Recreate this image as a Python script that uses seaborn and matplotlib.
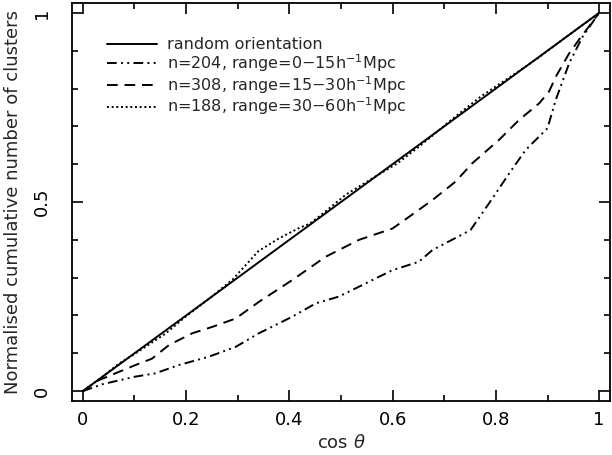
import numpy as np
import matplotlib
matplotlib.use('Agg')
import matplotlib.pyplot as plt
from matplotlib.ticker import MultipleLocator, FuncFormatter
import seaborn as sns

# Valores
random_x = [0.0, 1.0]
random_y = [0.0, 1.0]

n204_x = [0.0, 0.037, 0.10, 0.14, 0.186, 0.244, 0.296, 0.341, 0.406, 0.451, 0.496, 0.548,
          0.60, 0.651, 0.677, 0.729, 0.751, 0.787, 0.826, 0.858, 0.90, 0.916, 0.942, 0.968, 1.0]
n204_y = [0.0, 0.018, 0.038, 0.047, 0.069, 0.091, 0.117, 0.153, 0.197, 0.232, 0.25, 0.285,
          0.32, 0.342, 0.373, 0.41, 0.426, 0.497, 0.576, 0.638, 0.695, 0.77, 0.867, 0.937, 1.0]

n308_x = [0.0, 0.031, 0.07, 0.102, 0.134, 0.167, 0.212, 0.251, 0.296, 0.341, 0.406, 0.47,
          0.535, 0.60, 0.632, 0.677, 0.722, 0.754, 0.806, 0.845, 0.884, 0.903, 0.916, 0.942,
          0.961, 1.0]
n308_y = [0.0, 0.029, 0.051, 0.069, 0.086, 0.122, 0.153, 0.17, 0.192, 0.236, 0.294, 0.355,
          0.40, 0.43, 0.461, 0.505, 0.554, 0.602, 0.664, 0.717, 0.761, 0.792, 0.831, 0.893,
          0.929, 1.0]

n188_x = [0.0, 0.02, 0.04, 0.07, 0.10, 0.13, 0.16, 0.20, 0.25, 0.29, 0.34, 0.38, 0.42, 0.44,
          0.47, 0.51, 0.57, 0.61, 0.65, 0.69, 0.71, 0.77, 0.85, 0.88, 0.93, 0.97, 1.0]
n188_y = [0.0, 0.02, 0.04, 0.073, 0.098, 0.125, 0.152, 0.198, 0.25, 0.295, 0.37, 0.404, 0.432,
          0.443, 0.475, 0.52, 0.57, 0.603, 0.645, 0.69, 0.713, 0.778, 0.851, 0.879, 0.93, 0.97,
          1.0]

sns.set_style('ticks')
plt.rcParams['font.family'] = ['DejaVu Sans']
plt.rcParams['mathtext.fontset'] = 'dejavusans'

fig = plt.figure(figsize=(6.12, 4.55), dpi=100)
ax = fig.add_axes([0.1176, 0.1187, 0.8791, 0.8747])

lw = 1.4
sns.lineplot(x=random_x, y=random_y, ax=ax, color='black', lw=lw,
             label='random orientation')
sns.lineplot(x=n204_x, y=n204_y, ax=ax, color='black', lw=lw,
             linestyle=(0, (5, 2.2, 1, 2.2, 1, 2.2)),
             label=r'n=204, range=0$-$15h$^{-1}$Mpc')
sns.lineplot(x=n308_x, y=n308_y, ax=ax, color='black', lw=lw,
             linestyle=(0, (5.5, 3.5)),
             label=r'n=308, range=15$-$30h$^{-1}$Mpc')
sns.lineplot(x=n188_x, y=n188_y, ax=ax, color='black', lw=lw,
             linestyle=(0, (1, 1.4)),
             label=r'n=188, range=30$-$60h$^{-1}$Mpc')

ax.set_xlim(-0.021, 1.021)
ax.set_ylim(-0.026, 1.026)

ax.xaxis.set_major_locator(MultipleLocator(0.2))
ax.xaxis.set_minor_locator(MultipleLocator(0.1))
ax.yaxis.set_major_locator(MultipleLocator(0.5))
ax.yaxis.set_minor_locator(MultipleLocator(0.1))

fmt = FuncFormatter(lambda v, p: '%g' % round(v, 2))
ax.xaxis.set_major_formatter(fmt)
ax.yaxis.set_major_formatter(fmt)

ax.tick_params(which='both', direction='in', top=True, right=True, width=1.2,
               labelsize=13, colors='black')
ax.tick_params(which='major', length=8)
ax.tick_params(which='minor', length=4.5)
ax.tick_params(axis='x', which='major', pad=7)
ax.tick_params(axis='y', which='major', pad=15)
for lab in ax.get_yticklabels():
    lab.set_rotation(90)
    lab.set_va('center')

for s in ax.spines.values():
    s.set_linewidth(1.3)
    s.set_color('black')

ax.set_xlabel(r'cos $\theta$', fontsize=13, labelpad=4)
ax.set_ylabel('Normalised cumulative number of clusters', fontsize=13, labelpad=8)

ax.legend(loc='upper left', bbox_to_anchor=(0.054, 0.93), frameon=False,
          fontsize=11.5, handlelength=3.1, handletextpad=0.6, labelspacing=0.0,
          borderaxespad=0)

plt.savefig('out.png', dpi=100)
